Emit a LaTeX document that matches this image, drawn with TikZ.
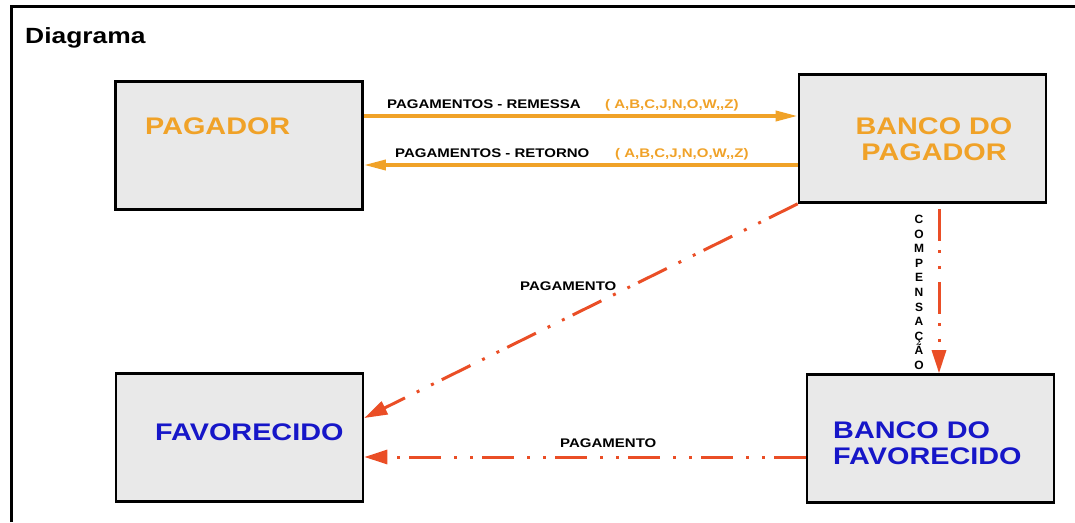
\documentclass[tikz,border=0pt]{standalone}
\usepackage{fontspec}
\setmainfont{Liberation Sans}
\newfontfamily\diafont[FakeStretch=1.2]{Liberation Sans}
\usetikzlibrary{positioning,calc,arrows.meta}
\definecolor{PagOrange}{RGB}{240,162,40}
\definecolor{PagRed}{RGB}{234,78,38}
\definecolor{FavBlue}{RGB}{22,22,200}
\definecolor{BoxGray}{RGB}{233,233,233}

\begin{document}
\begin{tikzpicture}[x=1pt,y=-1pt,
    box/.style={draw,line width=2.6pt,fill=BoxGray,inner sep=0pt,minimum width=247pt,minimum height=128pt},
    title/.style={inner sep=0pt,font=\diafont\bfseries\fontsize{24}{26}\selectfont},
    tag/.style={inner sep=0pt,anchor=base west,font=\diafont\bfseries\fontsize{12.5}{14}\selectfont},
    feed/.style={line width=3.5pt,PagOrange,-{Triangle[length=22pt,width=10pt]}},
    pay/.style={line width=3pt,PagRed,dash pattern=on 32pt off 9pt on 3pt off 13pt on 3pt off 13pt,-{Triangle[length=23pt,width=14pt]}}]
        \useasboundingbox (0,0) rectangle (1075,522);

        % Frame
        \draw[line width=3pt] (11,522) -- (11,6) -- (1075,6);
        \node[anchor=base west,inner sep=0pt,font=\diafont\bfseries\fontsize{22}{24}\selectfont] (diagrama) at (25,43) {Diagrama};

        % Boxes
        \node[box] (pagador) at (239,145.5) {};
        \node[box] (bpagador) at (922.5,138.5) {};
        \node[box] (favorecido) at (239.5,437.5) {};
        \node[box] (bfavorecido) at (930.5,438.5) {};

        \node[title,anchor=base west,PagOrange] (tpagador) at (145,134) {PAGADOR};
        \node[title,align=center,PagOrange] (tbpagador) at (934,139) {BANCO DO\\PAGADOR};
        \node[title,anchor=base west,FavBlue] (tfavorecido) at (155,440) {FAVORECIDO};
        \node[title,anchor=west,align=left,FavBlue] (tbfavorecido) at (833,443) {BANCO DO\\FAVORECIDO};

        % Remessa / retorno
        \draw[feed] (pagador.east |- 0,116) -- (bpagador.west |- 0,116);
        \draw[feed] (bpagador.west |- 0,165) -- (pagador.east |- 0,165);
        \node[tag] (lremessa) at (387,108) {PAGAMENTOS - REMESSA};
        \node[tag,PagOrange] (cremessa) at (605,108) {( A,B,C,J,N,O,W,,Z)};
        \node[tag] (lretorno) at (395,157) {PAGAMENTOS - RETORNO};
        \node[tag,PagOrange] (cretorno) at (615,157) {( A,B,C,J,N,O,W,,Z)};

        % Pagamento
        \draw[pay] (bpagador.south west) -- ([yshift=19.5pt]favorecido.east);
        \coordinate (pfav) at ([yshift=-18.5pt]bfavorecido.west);
        \draw[pay] (pfav) -- (pfav -| favorecido.east);
        \node[tag] (ldiag) at (520,290) {PAGAMENTO};
        \node[tag] (lhoriz) at (560,447) {PAGAMENTO};

        % Compensacao
        \draw[pay] ([yshift=-5pt]bpagador.south -| 939,0) -- (bfavorecido.north -| 939,0);
        \node[inner sep=0pt,anchor=north,align=center,font=\bfseries\fontsize{12}{14.6}\selectfont] (lcomp) at (919,215) {C\\O\\M\\P\\E\\N\\S\\A\\Ç\\Ã\\O};

\end{tikzpicture}
\end{document}
